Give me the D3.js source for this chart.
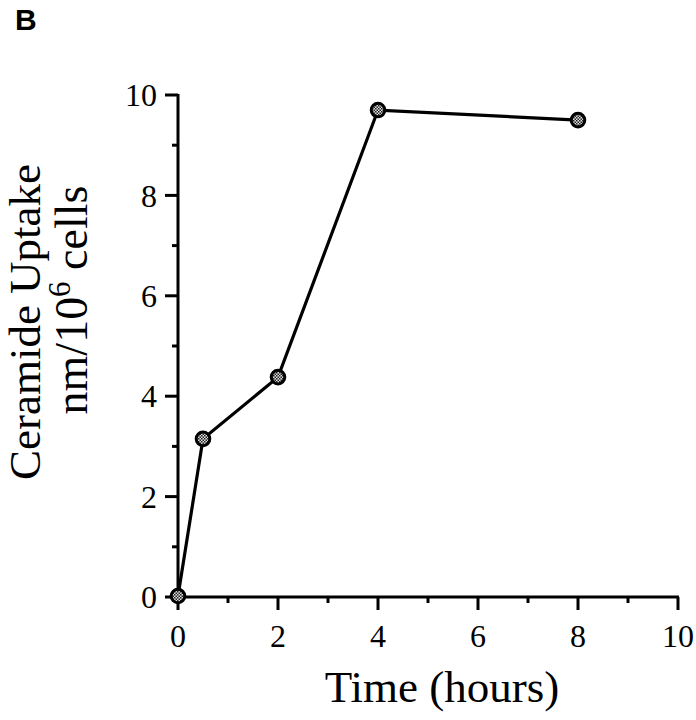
<!DOCTYPE html>
<html><head><meta charset="utf-8">
<script src="https://cdn.jsdelivr.net/npm/d3@7"></script>
<style>body{margin:0;background:#fff}svg{display:block}</style>
</head><body>
<script>
const timeHours = [0, 0.5, 2, 4, 8];
const uptake = [0.02, 3.15, 4.38, 9.7, 9.5];
const xTicks = [0, 2, 4, 6, 8, 10];
const yTicks = [0, 2, 4, 6, 8, 10];
const xMinor = [1, 3, 5, 7, 9];
const yMinor = [1, 3, 5, 7, 9];

const W = 696, H = 720;
const svg = d3.select("body").append("svg").attr("width", W).attr("height", H);
const defs = svg.append("defs");
const pat = defs.append("pattern").attr("id","dots").attr("patternUnits","userSpaceOnUse")
  .attr("width",3).attr("height",3);
pat.append("rect").attr("width",3).attr("height",3).attr("fill","#e0e0e0");
pat.append("rect").attr("x",0).attr("y",0).attr("width",1.5).attr("height",1.5).attr("fill","#222");
pat.append("rect").attr("x",1.5).attr("y",1.5).attr("width",1.5).attr("height",1.5).attr("fill","#222");

const x = d3.scaleLinear().domain([0,10]).range([178,678]);
const y = d3.scaleLinear().domain([0,10]).range([597,95]);
const serif = "'Liberation Serif','Times New Roman',serif";

svg.append("text").attr("x",15).attr("y",30).attr("font-family","'Liberation Sans',Arial,sans-serif")
  .attr("font-weight","bold").attr("font-size",30).text("B");

// axes
const g = svg.append("g").attr("stroke","#000").attr("stroke-width",3).attr("fill","none");
g.append("line").attr("x1",x(0)).attr("x2",x(0)).attr("y1",y(10)-1).attr("y2",y(0)+1);
g.append("line").attr("x1",x(0)-1).attr("x2",x(10)+1).attr("y1",y(0)).attr("y2",y(0));
yTicks.forEach(v=>g.append("line").attr("x1",x(0)-13).attr("x2",x(0)).attr("y1",y(v)).attr("y2",y(v)));
yMinor.forEach(v=>g.append("line").attr("x1",x(0)-6).attr("x2",x(0)).attr("y1",y(v)).attr("y2",y(v)));
xTicks.forEach(v=>g.append("line").attr("x1",x(v)).attr("x2",x(v)).attr("y1",y(0)).attr("y2",y(0)+13));
xMinor.forEach(v=>g.append("line").attr("x1",x(v)).attr("x2",x(v)).attr("y1",y(0)).attr("y2",y(0)+6));

svg.append("g").selectAll("text").data(yTicks).join("text")
  .attr("x",x(0)-21).attr("y",d=>y(d)).attr("dy","0.35em").attr("text-anchor","end")
  .attr("font-family",serif).attr("font-size",32).text(d=>d);
svg.append("g").selectAll("text").data(xTicks).join("text")
  .attr("x",d=>x(d)).attr("y",y(0)+50).attr("text-anchor","middle")
  .attr("font-family",serif).attr("font-size",32).text(d=>d);

svg.append("text").attr("x",442).attr("y",702).attr("text-anchor","middle")
  .attr("font-family",serif).attr("font-size",45).text("Time (hours)");

svg.append("text").attr("transform","translate(40,322) rotate(-90)").attr("text-anchor","middle")
  .attr("font-family",serif).attr("font-size",45).text("Ceramide Uptake");
const t2 = svg.append("text").attr("transform","translate(87,300) rotate(-90)").attr("text-anchor","middle")
  .attr("font-family",serif).attr("font-size",46);
t2.append("tspan").text("nm/10");
t2.append("tspan").attr("dy",-17).attr("font-size",31).text("6");
t2.append("tspan").attr("dy",17).text(" cells");

const pts = timeHours.map((t,i)=>[t,uptake[i]]);
svg.append("path").datum(pts).attr("fill","none").attr("stroke","#000").attr("stroke-width",3.2)
  .attr("d", d3.line().x(d=>x(d[0])).y(d=>y(d[1])));
svg.append("g").selectAll("circle").data(pts).join("circle")
  .attr("cx",d=>x(d[0])).attr("cy",d=>y(d[1])).attr("r",6.8)
  .attr("fill","url(#dots)").attr("stroke","#000").attr("stroke-width",3);
</script>
</body></html>
